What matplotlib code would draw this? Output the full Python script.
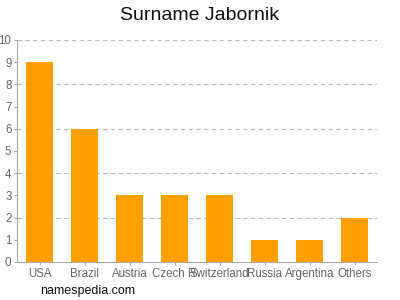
import matplotlib
matplotlib.use("Agg")
import matplotlib.pyplot as plt

plt.rcParams["font.family"] = ["Liberation Sans", "DejaVu Sans"]

countries = ["USA", "Brazil", "Austria", "Czech R", "Switzerland", "Russia", "Argentina", "Others"]
counts = [9, 6, 3, 3, 3, 1, 1, 2]
y_ticks = list(range(0, 11))

fig = plt.figure(figsize=(4, 3), dpi=100)
ax = fig.add_axes([0.0425, 0.1267, 0.9, 0.74])

ax.bar(range(len(countries)), counts, width=0.62, color="#FFA000", zorder=2)
ax.set_xlim(-0.5, len(countries) - 0.5)
ax.set_ylim(0, 10)
ax.set_yticks(y_ticks)
ax.set_xticks(range(len(countries)))
ax.set_xticklabels(countries)

for y in y_ticks[2::2]:
    ax.axhline(y, color="#bbbbbb", linestyle=(0, (4, 3)), linewidth=0.8, zorder=1)

for side in ["top", "right"]:
    ax.spines[side].set_visible(False)
ax.spines["left"].set_color("#aaaaaa")
ax.spines["bottom"].set_color("#aaaaaa")
ax.tick_params(axis="both", colors="#aaaaaa", labelcolor="#666666", labelsize=8.3, length=2, pad=2)

fig.text(0.5, 0.95, "Surname Jabornik", ha="center", va="center", fontsize=14, color="#111111")
fig.text(0.1, 0.03, "namespedia.com", ha="left", va="center", fontsize=9, color="#111111")

fig.savefig("out.png", dpi=100)
